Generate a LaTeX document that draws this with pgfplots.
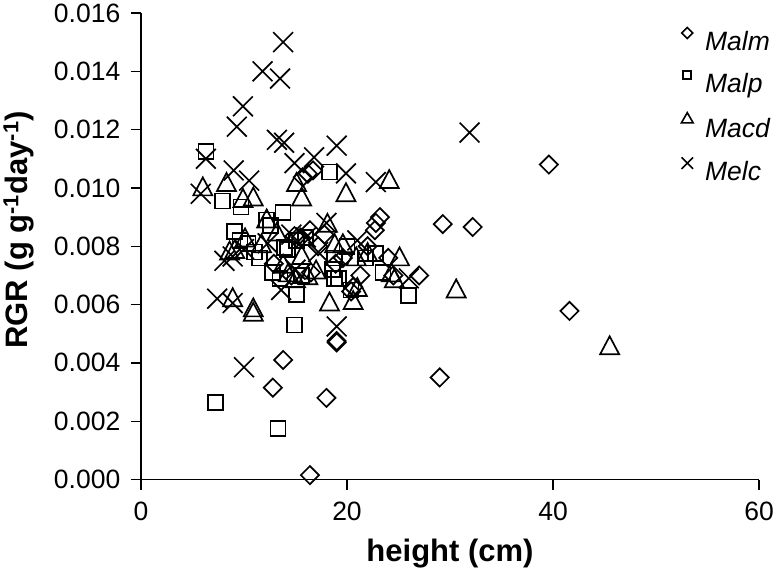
\documentclass[border=0pt]{standalone}
\usepackage{pgfplots}
\pgfplotsset{compat=1.18}
\usepackage{fontspec}
\setmainfont{Liberation Sans}
\newcommand\tickfont{\fontsize{26.5bp}{31bp}\selectfont}
\newcommand\legfont{\fontsize{26.5bp}{31bp}\selectfont\itshape}
\newcommand\labfont{\fontsize{31bp}{36bp}\selectfont\bfseries}
\pgfplotsset{mylegimg/.style={legend image code/.code={\draw[##1] plot coordinates {(0bp,8bp)};}}}
\begin{document}
\begin{tikzpicture}
\useasboundingbox (0,0) rectangle (776bp,570bp);
\begin{axis}[
  at={(141bp,90.5bp)}, anchor=south west,
  scale only axis, width=618bp, height=466.5bp,
  xmin=0, xmax=60, ymin=0, ymax=0.016,
  axis x line*=bottom, axis y line*=left,
  axis line style={line width=1.3bp, black},
  xtick={0,20,40,60},
  ytick={0,0.002,0.004,0.006,0.008,0.010,0.012,0.014,0.016},
  tick align=outside, major tick length=10bp,
  tick style={line width=1.3bp, black},
  scaled y ticks=false,
  /pgf/number format/assume math mode=true,
  yticklabel style={/pgf/number format/.cd, fixed, fixed zerofill, precision=3, /tikz/.cd, font=\tickfont, inner sep=0pt, xshift=-10.5bp},
  xticklabel style={font=\tickfont, inner sep=0pt, yshift=-12.2bp},
  xlabel={height (cm)},
  ylabel={RGR (g g\textsuperscript{-1}day\textsuperscript{-1})},
  every axis x label/.style={at={(axis description cs:0.5,-0.1768)}, anchor=base, font=\labfont},
  every axis y label/.style={at={(axis description cs:-0.1837,0.535)}, anchor=base, rotate=90, font=\labfont},
  clip=false,
  legend style={draw=none, fill=none, at={(0.8744,0.969)}, anchor=north west,
    inner sep=0pt, outer sep=0pt, row sep=20.1bp, column sep=12bp,
    font=\legfont, nodes={inner sep=0pt, text height=19.5bp, text depth=0bp}},
  legend cell align=left,
]
% Malm (diamonds)
\addplot[forget plot, only marks, mark=square, mark size=6.4bp, mark options={rotate=45, line width=1.7bp, black}] table {
39.6 0.01080
41.6 0.00578
29.3 0.00876
32.2 0.00866
27.0 0.00700
29.0 0.00350
12.8 0.00315
13.8 0.00410
16.4 0.00015
18.0 0.00280
19.0 0.00470
19.0 0.00475
16.7 0.01060
16.2 0.01049
15.7 0.01037
23.2 0.00900
22.8 0.00880
22.7 0.00855
24.0 0.00760
21.3 0.00700
20.4 0.00645
20.6 0.00660
16.4 0.00855
15.5 0.00830
14.9 0.00835
17.2 0.00800
17.8 0.00840
16.5 0.00710
14.6 0.00700
19.6 0.00760
18.9 0.00740
12.9 0.00740
24.5 0.00700
22.0 0.00800
};
% Malp (squares)
\addplot[forget plot, only marks, mark=square, mark size=7.5bp, mark options={line width=1.7bp, black}] table {
6.3 0.01125
7.9 0.00955
9.7 0.00935
13.8 0.00915
18.3 0.01055
9.1 0.00850
9.6 0.00820
12.2 0.00890
12.6 0.00870
11.5 0.00760
13.9 0.00795
15.1 0.00820
22.8 0.00775
18.6 0.00720
18.8 0.00690
23.5 0.00710
12.8 0.00710
13.5 0.00690
15.1 0.00635
14.9 0.00530
26.0 0.00630
20.4 0.00650
7.2 0.00265
13.3 0.00175
20.0 0.00800
14.2 0.00790
11.0 0.00780
10.4 0.00810
18.8 0.00760
16.0 0.00830
21.8 0.00760
15.6 0.00700
19.2 0.00690
};
% Macd (triangles)
\addplot[forget plot, only marks, mark=triangle, mark size=11bp, mark options={yscale=1.09, line width=1.7bp, black}] table {
6.0 0.00995
8.3 0.01010
10.9 0.00960
9.9 0.00955
15.1 0.01010
15.6 0.00960
19.9 0.00975
24.1 0.01020
12.2 0.00885
18.1 0.00870
19.6 0.00800
8.6 0.00775
9.1 0.00780
8.9 0.00615
10.9 0.00580
10.9 0.00565
18.3 0.00600
20.6 0.00605
20.9 0.00755
25.1 0.00755
24.3 0.00700
30.6 0.00645
45.5 0.00450
18.8 0.00800
13.8 0.00730
14.3 0.00700
15.0 0.00680
16.2 0.00690
17.0 0.00710
11.7 0.00800
10.1 0.00820
22.0 0.00770
13.2 0.00840
15.6 0.00760
21.0 0.00650
24.6 0.00680
};
% Melc (crosses)
\addplot[forget plot, only marks, mark=x, mark size=14bp, mark options={line width=1.7bp, black}] table {
13.8 0.01500
11.8 0.01400
13.5 0.01375
9.9 0.01280
9.3 0.01210
13.2 0.01165
13.9 0.01155
19.0 0.01145
6.3 0.01100
14.9 0.01085
16.8 0.01105
9.0 0.01060
10.5 0.01025
19.9 0.01050
22.8 0.01020
5.8 0.00980
31.9 0.01190
7.4 0.00620
8.9 0.00605
10.0 0.00385
19.0 0.00525
13.6 0.00650
8.1 0.00750
8.9 0.00765
16.0 0.00830
17.2 0.00780
18.0 0.00880
14.6 0.00840
26.0 0.00690
12.3 0.00810
10.0 0.00790
15.0 0.00720
21.0 0.00820
};
\addlegendimage{only marks, mark=square, mark size=3.9bp, mark options={rotate=45, line width=1.6bp, black}, mylegimg}
\addlegendentry{Malm}
\addlegendimage{only marks, mark=square, mark size=4bp, mark options={line width=1.6bp, black}, mylegimg}
\addlegendentry{Malp}
\addlegendimage{only marks, mark=triangle, mark size=6.8bp, mark options={line width=1.6bp, black}, mylegimg}
\addlegendentry{Macd}
\addlegendimage{only marks, mark=x, mark size=8.2bp, mark options={line width=1.6bp, black}, mylegimg}
\addlegendentry{Melc}
\end{axis}
\end{tikzpicture}
\end{document}
